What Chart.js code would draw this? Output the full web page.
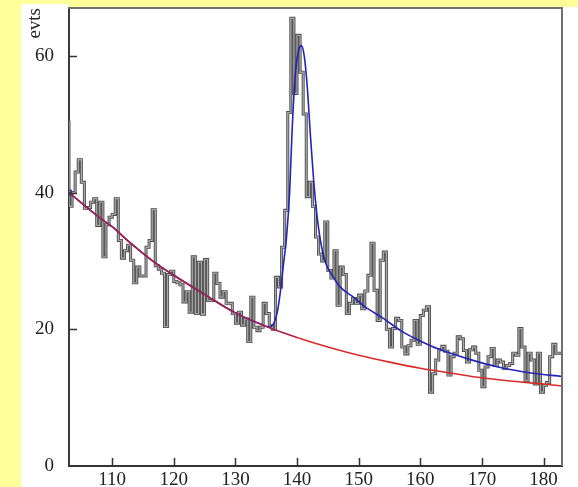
<!DOCTYPE html>
<html>
<head>
<meta charset="utf-8">
<script src="https://cdn.jsdelivr.net/npm/chart.js@4.4.1/dist/chart.umd.min.js"></script>
<style>
  html, body { margin: 0; padding: 0; background: #ffff99; }
  #wrap { width: 578px; height: 487px; }
</style>
</head>
<body>
<div id="wrap"><canvas id="massChart" width="578" height="487"></canvas></div>
<script>
// histogram: 0.5-wide bins from 103 to 183
const histLow = 103;
const binWidth = 0.5;
const counts = [
  50.5, 38, 40, 43, 44.8, 41.5, 37.7, 37.8, 38.6, 39.1,
  35.2, 38.6, 30.6, 35.3, 36.4, 36.8, 39.1, 33, 30.4, 31.5,
  32.3, 30.1, 26.8, 29.1, 27.8, 27.8, 32, 33, 37.5, 29.3,
  28.8, 28.2, 20.4, 28, 28.5, 27, 26.8, 26.5, 24, 25.5,
  22.5, 30.6, 22.3, 29.8, 22.2, 30.2, 24.2, 24.2, 28.2, 26.7,
  24.7, 25.5, 23.8, 23.8, 22.3, 20.9, 22.5, 20.6, 21.5, 18.2,
  24.7, 20.3, 19.8, 20.3, 23.8, 22.3, 20.5, 20, 27.6, 26.2,
  32, 37.4, 51.7, 65.5, 54.5, 63, 57.6, 51.5, 39.4, 41.5,
  38, 33.5, 31, 30, 35.7, 28.6, 27.5, 31.5, 23.5, 29.1,
  28, 22.3, 23.8, 24.5, 23.8, 25, 23, 25.6, 27.9, 32.6,
  25.7, 21.3, 30.1, 31.3, 20, 17.4, 20.1, 21.6, 21.3, 17.4,
  16.4, 17.6, 18.4, 21.3, 17.8, 22, 22.8, 23.3, 10.8, 13.5,
  15.5, 17, 17.5, 16.8, 13.3, 16, 16.5, 18.9, 18.6, 16.9,
  15.2, 17, 17.4, 16.5, 14, 11.6, 14.5, 16, 17.2, 14.7,
  15.5, 15.2, 14.3, 14.7, 15, 16.5, 16.2, 20.1, 17.4, 12.5,
  16.5, 15.5, 12, 16.5, 10.8, 11.8, 12.2, 16, 17.8, 16.5
];

// background curve (red)
const bgX = [103, 105, 108, 110, 113, 117, 120, 125, 130, 135, 140, 145, 150, 155, 160, 165, 170, 175, 180, 183];
const bgY = [40, 38.5, 36.3, 35, 32.6, 29.7, 27.9, 25.1, 22.4, 20.4, 18.8, 17.4, 16.2, 15.2, 14.3, 13.6, 12.9, 12.4, 12.0, 11.7];

// signal + background curve (blue)
const fitX = [103, 105, 108, 110, 113, 117, 120, 125, 130, 134, 135.5, 136.3, 136.8, 137.3, 137.8, 138.3, 138.8, 139.2, 139.7, 140.2,
  140.7, 141.2, 141.7, 142.2, 142.7, 143.2, 143.8, 144.6, 145.7, 147, 149, 151, 154, 157, 160, 163, 168, 173, 178, 183];
const fitY = [40, 38.5, 36.3, 35, 32.6, 29.7, 27.9, 25.1, 22.4, 20.8, 20.35, 21, 22.5, 25.5, 29.5, 33.5, 40, 49, 57, 60.6,
  61.5, 59.8, 55, 48, 41.8, 37, 33, 29.8, 27.9, 26.2, 24.8, 23.3, 21.6, 19.7, 18.3, 17.1, 15.6, 14.4, 13.6, 13.1];

const xTicks = [110, 120, 130, 140, 150, 160, 170, 180];
const yTicks = [0, 20, 40, 60];

const histPts = counts.map((c, i) => ({ x: histLow + i * binWidth, y: c }));
histPts.push({ x: histLow + counts.length * binWidth, y: counts[counts.length - 1] });

const bgPts = bgX.map((x, i) => ({ x: x, y: bgY[i] }));
const fitPts = fitX.map((x, i) => ({ x: x, y: fitY[i] }));

const labelFont = { family: '"Liberation Serif", "DejaVu Serif", serif', size: 19 };

// yellow page, white plot panel, frame and inward tick marks
const paper = {
  id: 'paper',
  beforeDraw(chart) {
    const c = chart.ctx;
    c.save();
    c.fillStyle = '#ffff99';
    c.fillRect(0, 0, chart.width, chart.height);
    c.fillStyle = '#ffffff';
    c.fillRect(21, 4, chart.width - 21, chart.height - 4);
    c.fillStyle = '#ffff99';
    c.fillRect(68, 0, chart.width - 68, 7);
    c.restore();
  },
  afterDatasetsDraw(chart) {
    const { ctx: c, chartArea: a, scales: { x, y } } = chart;
    c.save();
    c.strokeStyle = '#707070';
    c.lineWidth = 2;
    c.beginPath();
    c.moveTo(a.left - 1, a.top);
    c.lineTo(a.right, a.top);
    c.lineTo(a.right, a.bottom);
    c.stroke();

    c.strokeStyle = '#333';
    c.lineWidth = 1.5;
    c.beginPath();
    xTicks.forEach(v => {
      const p = Math.round(x.getPixelForValue(v)) + 0.5;
      c.moveTo(p, a.bottom);
      c.lineTo(p, a.bottom - 8);
    });
    yTicks.forEach(v => {
      if (v === 0) return;
      const p = Math.round(y.getPixelForValue(v)) + 0.5;
      c.moveTo(a.left, p);
      c.lineTo(a.left + 8, p);
    });
    c.stroke();
    c.restore();
  }
};

new Chart(document.getElementById('massChart'), {
  type: 'line',
  data: {
    datasets: [
      {
        label: 'background',
        data: bgPts,
        borderWidth: 1.6,
        borderColor: '#d92b2b',
        segment: {
          borderColor: ctx => ctx.p0.parsed.x < 136 ? '#a8204c' : '#d92b2b'
        },
        cubicInterpolationMode: 'monotone',
        pointRadius: 0,
        fill: false
      },
      {
        label: 'fit',
        data: fitPts,
        borderWidth: 1.6,
        borderColor: '#2424b8',
        cubicInterpolationMode: 'monotone',
        pointStyle: 'rect',
        pointRadius: ctx => ctx.dataIndex === 0 ? 3.5 : 0,
        pointBorderColor: '#2424b8',
        pointBackgroundColor: 'rgba(255,255,255,0)',
        pointBorderWidth: 1,
        fill: false
      },
      {
        label: 'evts inner',
        data: histPts,
        stepped: 'after',
        borderWidth: 1.3,
        borderColor: '#a8a8a8',
        pointRadius: 0,
        fill: false
      },
      {
        label: 'evts',
        data: histPts,
        stepped: 'after',
        borderWidth: 3,
        borderColor: '#4a4a4a',
        pointRadius: 0,
        fill: false
      }
    ]
  },
  options: {
    responsive: false,
    animation: false,
    devicePixelRatio: 1,
    layout: { padding: { left: 0, top: 8, right: 16, bottom: 0 } },
    plugins: {
      legend: { display: false },
      tooltip: { enabled: false }
    },
    scales: {
      x: {
        type: 'linear',
        min: 103,
        max: 183,
        afterBuildTicks: s => { s.ticks = xTicks.map(v => ({ value: v })); },
        afterFit: s => { s.height = 21; s.paddingLeft = 0; s.paddingRight = 0; },
        grid: { drawOnChartArea: false, drawTicks: false },
        border: { display: true, color: '#333', width: 2 },
        ticks: { autoSkip: false, maxRotation: 0, padding: 3, color: '#222', font: labelFont }
      },
      y: {
        type: 'linear',
        min: 0,
        max: 67,
        afterBuildTicks: s => { s.ticks = yTicks.map(v => ({ value: v })); },
        afterFit: s => { s.width = 69; s.paddingTop = 0; s.paddingBottom = 0; },
        grid: { drawOnChartArea: false, drawTicks: false },
        border: { display: true, color: '#3a3a3a', width: 2 },
        ticks: { padding: 15, color: '#222', font: labelFont },
        title: {
          display: true,
          text: 'evts',
          align: 'end',
          color: '#222',
          font: labelFont,
          padding: { top: 24, bottom: 0 }
        }
      }
    }
  },
  plugins: [paper]
});
</script>
</body>
</html>
